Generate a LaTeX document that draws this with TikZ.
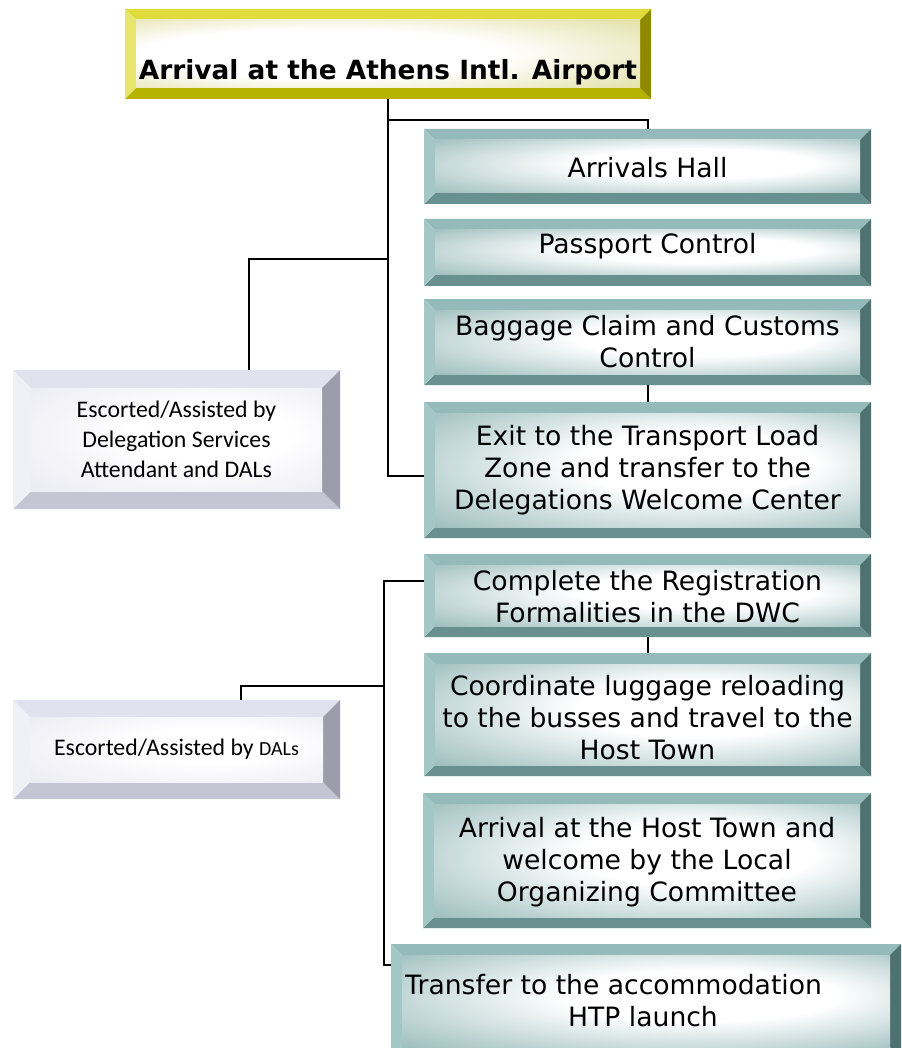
\documentclass[tikz,border=0pt]{standalone}
\usepackage{fontspec}
\setmainfont{DejaVu Sans}
\newfontfamily\calib{Carlito}
\definecolor{tealT}{HTML}{94BABA}
\definecolor{tealL}{HTML}{A3C6C6}
\definecolor{tealR}{HTML}{4E7171}
\definecolor{tealB}{HTML}{67908F}
\definecolor{tealF}{HTML}{8CB2B2}
\definecolor{yelT}{HTML}{DFDC3C}
\definecolor{yelL}{HTML}{E7E56E}
\definecolor{yelR}{HTML}{8E8B00}
\definecolor{yelB}{HTML}{B6B200}
\definecolor{yelF}{HTML}{D6D17A}
\definecolor{lavT}{HTML}{E2E2EE}
\definecolor{lavL}{HTML}{F0F0F7}
\definecolor{lavR}{HTML}{9C9CAA}
\definecolor{lavB}{HTML}{C5C5D3}
\definecolor{lavF}{HTML}{E6E6F0}
\pgfdeclareradialshading{tealface}{\pgfpoint{8bp}{4bp}}{color(0bp)=(white); color(14bp)=(white); color(42bp)=(tealF); color(50bp)=(tealF)}
\pgfdeclareradialshading{yelface}{\pgfpoint{-10bp}{0bp}}{color(0bp)=(white); color(18bp)=(white); color(48bp)=(yelF); color(55bp)=(yelF)}
\pgfdeclareradialshading{lavface}{\pgfpoint{8bp}{4bp}}{color(0bp)=(white); color(14bp)=(white); color(44bp)=(lavF); color(50bp)=(lavF)}
\newcommand\bevelbox[3]{%
 \fill[#2T] (#1.north west) -- (#1.north east) -- ([shift={(-#3,#3)}]#1.north east) -- ([shift={(#3,#3)}]#1.north west) -- cycle;
 \fill[#2B] (#1.south west) -- (#1.south east) -- ([shift={(-#3,-#3)}]#1.south east) -- ([shift={(#3,-#3)}]#1.south west) -- cycle;
 \fill[#2L] (#1.north west) -- ([shift={(#3,#3)}]#1.north west) -- ([shift={(#3,-#3)}]#1.south west) -- (#1.south west) -- cycle;
 \fill[#2R] (#1.north east) -- ([shift={(-#3,#3)}]#1.north east) -- ([shift={(-#3,-#3)}]#1.south east) -- (#1.south east) -- cycle;
 \shade[shading=#2face] ([shift={(#3,#3)}]#1.north west) rectangle ([shift={(-#3,-#3)}]#1.south east);
}
\tikzset{
 box/.style={inner sep=0pt, outer sep=0pt, draw=none},
 txt/.style={inner sep=0pt, align=center, font=\fontsize{26.6}{32}\selectfont},
 ctxt/.style={inner sep=0pt, align=center, font=\calib\fontsize{23.8}{30}\selectfont},
 conn/.style={draw=black, line width=2pt}
}
\begin{document}
\begin{tikzpicture}[x=1pt,y=-1pt]
\useasboundingbox (0,0) rectangle (901,1048);
\clip (0,0) rectangle (901,1048);
\fill[white] (0,0) rectangle (901,1048);
% box geometry
\node[box, minimum width=526pt, minimum height=90pt] (title) at (388,54) {};
\node[box, minimum width=447pt, minimum height=75pt] (arr) at (647.5,166.5) {};
\node[box, minimum width=447pt, minimum height=67pt] (pass) at (647.5,252.5) {};
\node[box, minimum width=447pt, minimum height=86pt] (bag) at (647.5,342) {};
\node[box, minimum width=447pt, minimum height=136pt] (exit) at (647.5,470) {};
\node[box, minimum width=327pt, minimum height=139pt] (esc1) at (176.5,439.5) {};
\node[box, minimum width=447pt, minimum height=83pt] (comp) at (647.5,595.5) {};
\node[box, minimum width=447pt, minimum height=123pt] (coord) at (647.5,714.5) {};
\node[box, minimum width=448pt, minimum height=135pt] (host) at (647,860.5) {};
\node[box, minimum width=510pt, minimum height=114pt] (trans) at (646,1001) {};
\node[box, minimum width=327pt, minimum height=99pt] (esc2) at (176.5,749.5) {};
% bevels
\bevelbox{title}{yel}{11}
\bevelbox{arr}{teal}{11}
\bevelbox{pass}{teal}{11}
\bevelbox{bag}{teal}{11}
\bevelbox{exit}{teal}{11}
\bevelbox{comp}{teal}{11}
\bevelbox{coord}{teal}{11}
\bevelbox{host}{teal}{11}
\bevelbox{trans}{teal}{11}
\bevelbox{esc1}{lav}{18}
\bevelbox{esc2}{lav}{17}
% texts
\node[txt, font=\bfseries\fontsize{26.4}{32}\selectfont] (titleT) at (388,72) {Arrival at the Athens Intl. Airport};
\node[txt] (arrT) at (647.5,168) {Arrivals Hall};
\node[txt] (passT) at (647.5,246) {Passport Control};
\node[txt] (bagT) at (bag) {Baggage Claim and Customs\\Control};
\node[txt] (exitT) at (exit) {Exit to the Transport Load\\Zone and transfer to the\\Delegations Welcome Center};
\node[txt] (compT) at (647.5,597) {Complete the Registration\\Formalities in the DWC};
\node[txt] (coordT) at (647.5,718) {Coordinate luggage reloading\\to the busses and travel to the\\Host Town};
\node[txt] (hostT) at (647,862) {Arrival at the Host Town and\\welcome by the Local\\Organizing Committee};
\node[txt, align=left, anchor=west] (transT) at (405,1001) {Transfer to the accommodation\\\hspace*{163pt}HTP launch};
\node[ctxt] (esc1T) at (esc1) {Escorted/Assisted by\\Delegation Services\\Attendant and DALs};
\node[ctxt] (esc2T) at (esc2) {Escorted/Assisted by {\fontsize{20}{26}\selectfont DALs}};
% connectors
\coordinate (j1) at (388,120);
\coordinate (j2) at (388,259);
\coordinate (k1) at (384,581);
\coordinate (k2) at (384,965);
\coordinate (k3) at (384,686);
\draw[conn] (title.south) |- ([yshift=-6pt]exit.west);
\draw[conn] (j1) -| (arr.north);
\draw[conn] (j2) -| ([xshift=72.5pt]esc1.north);
\draw[conn] (bag.south) -- (exit.north);
\draw[conn] (comp.west |- k1) -- (k1) -- (k2) -- (trans.west |- k2);
\draw[conn] (comp.south) -- (coord.north);
\draw[conn] (k3) -| ([xshift=64.5pt]esc2.north);
\end{tikzpicture}
\end{document}
